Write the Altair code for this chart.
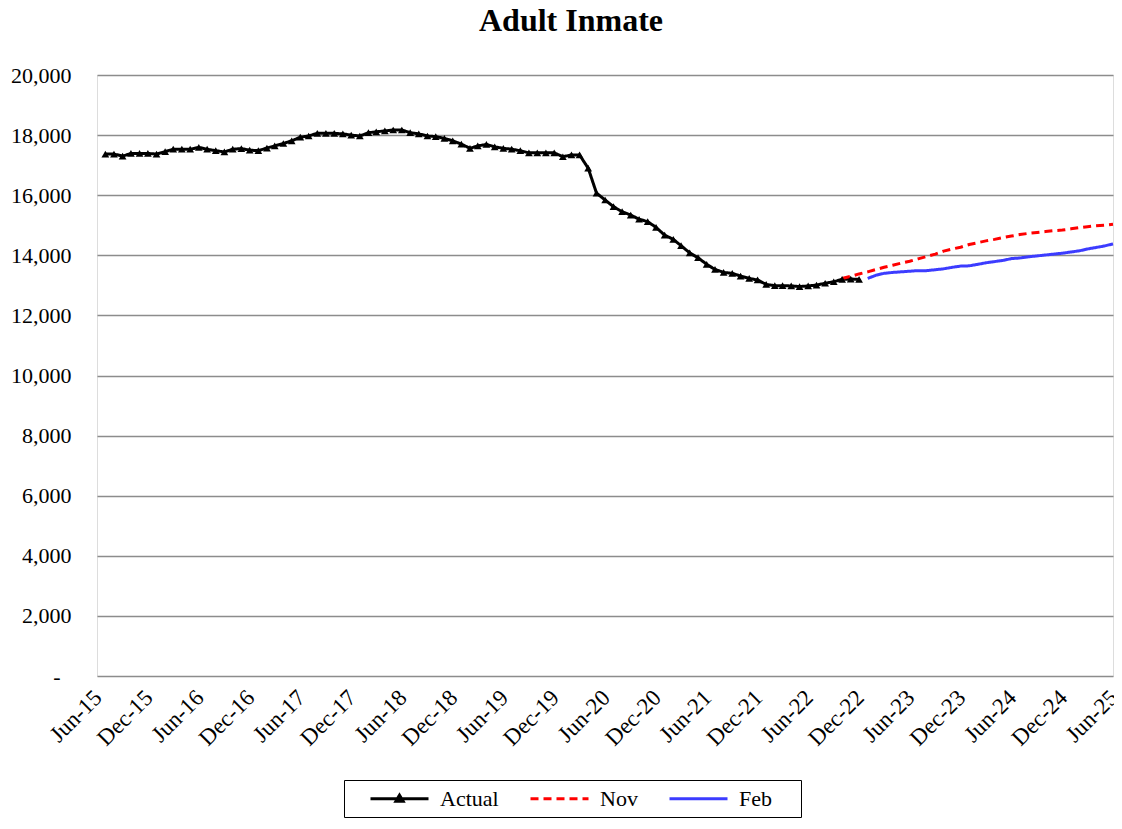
import altair as alt
import pandas as pd

# ---- data ----
actual_values = [
    17370, 17370, 17300, 17390, 17390, 17390,                                  # Jul-15 .. Dec-15
    17370, 17450, 17530, 17530, 17530, 17590, 17530, 17480, 17440, 17530, 17550, 17500,  # 2016
    17480, 17570, 17640, 17720, 17810, 17930, 17970, 18060, 18060, 18060, 18040, 18000,  # 2017
    17970, 18080, 18110, 18140, 18170, 18170, 18080, 18040, 17970, 17950, 17890, 17810,  # 2018
    17700, 17560, 17640, 17690, 17610, 17560, 17530, 17480, 17410, 17410, 17410, 17410,  # 2019
    17280, 17340, 17340, 16900, 16070, 15840, 15620, 15450, 15340, 15200, 15120, 14930,  # 2020
    14670, 14530, 14320, 14080, 13920, 13700, 13530, 13430, 13400, 13310, 13230, 13180,  # 2021
    13030, 12990, 12990, 12980, 12960, 12980, 13010, 13070, 13120, 13200, 13210, 13200,  # 2022
]
actual_start = "2015-07-01"

nov_values = [
    13230, 13300, 13380,                                                       # Oct-22 .. Dec-22
    13450, 13530, 13600, 13670, 13740, 13800, 13880, 13960, 14040, 14140, 14210, 14270,  # 2023
    14360, 14420, 14480, 14530, 14590, 14640, 14690, 14730, 14760, 14790, 14820, 14840,  # 2024
    14880, 14920, 14950, 14980, 15000, 15030,                                  # Jan-25 .. Jun-25
]
nov_start = "2022-10-01"

feb_values = [
    13230, 13340, 13400, 13430, 13450, 13470, 13490, 13490, 13520, 13550, 13600, 13640,  # 2023
    13650, 13700, 13750, 13790, 13830, 13890, 13910, 13950, 13980, 14010, 14040, 14070,  # 2024
    14110, 14150, 14210, 14260, 14310, 14380,                                  # Jan-25 .. Jun-25
]
feb_start = "2023-01-01"

series_names = ["Actual", "Nov", "Feb"]
series_colors = ["#000000", "#ff0000", "#3c3cff"]
series_dashes = [[1, 0], [8, 5], [1, 0]]
# legend symbols: a 58px line (path units x10), the Actual one with a triangle on it
legend_shapes = [
    "M-2.9,0H2.9M-0.36,0.25L0,-0.36L0.36,0.25Z",
    "M-2.9,0H2.9",
    "M-2.9,0H2.9",
]

y_ticks = list(range(0, 20001, 2000))
x_tick_dates = pd.date_range("2015-06-01", "2025-06-01", freq="6MS")


def monthly(start, values, name):
    dates = pd.date_range(start, periods=len(values), freq="MS").strftime("%Y-%m-%d")
    return pd.DataFrame({"date": dates, "value": values, "series": name})


actual_df = monthly(actual_start, actual_values, "Actual")
nov_df = monthly(nov_start, nov_values, "Nov")
feb_df = monthly(feb_start, feb_values, "Feb")
all_df = pd.concat([actual_df, nov_df, feb_df], ignore_index=True)

FONT = "Liberation Serif"
NB = "\u00a0"
ZW = "\u200b"

x_tick_ms = [int(pd.Timestamp(d, tz="UTC").value // 10**6) for d in x_tick_dates]

x_enc = alt.X(
    "date:T",
    scale=alt.Scale(type="utc", domain=[x_tick_ms[0], x_tick_ms[-1]]),
    axis=alt.Axis(
        values=x_tick_ms,
        labelExpr="utcFormat(datum.value, '%b-%y')",
        labelAngle=315,
        labelAlign="right",
        labelBaseline="top",
        labelPadding=10,
        labelOffset=-7,
        labelFont=FONT,
        labelFontSize=23,
        labelColor="black",
        ticks=False,
        domain=False,
        grid=False,
        title=None,
        labelOverlap=False,
        labelFlush=False,
    ),
)
y_enc = alt.Y(
    "value:Q",
    scale=alt.Scale(domain=[0, 20000], nice=False, zero=True),
    axis=alt.Axis(
        values=y_ticks,
        labelExpr=f"datum.value == 0 ? '-{NB}{NB}{ZW}' : format(datum.value, ',')",
        labelFont=FONT,
        labelFontSize=22,
        labelColor="black",
        labelPadding=26,
        ticks=False,
        domain=False,
        grid=True,
        gridColor="#8c8c8c",
        gridWidth=1.5,
        title=None,
    ),
)

legend = alt.Legend(
    orient="none",
    legendX=247,
    legendY=705,
    direction="horizontal",
    title=ZW,
    titleOrient="left",
    titlePadding=37,
    titleFont=FONT,
    titleFontSize=22,
    strokeColor="black",
    fillColor="white",
    padding=7,
    labelFont=FONT,
    labelFontSize=22,
    labelColor="black",
    labelOffset=29,
    labelExpr=f"datum.label == 'Feb' ? 'Feb{NB}{NB}{NB}{NB}{ZW}' : datum.label",
    symbolSize=400,
    symbolStrokeWidth=3,
    columnPadding=25,
)

stroke_scale = alt.Scale(domain=series_names, range=series_colors)
dash_scale = alt.Scale(domain=series_names, range=series_dashes)

# empty layer whose only job is the merged legend (first, so its legend wins the merge)
legend_layer = (
    alt.Chart(all_df)
    .transform_filter("false")
    .mark_point(filled=True, size=400, strokeWidth=3, opacity=1)
    .encode(
        x=x_enc,
        y=y_enc,
        stroke=alt.Stroke("series:N", scale=stroke_scale, legend=legend),
        fill=alt.Fill("series:N", scale=stroke_scale, legend=legend),
        strokeDash=alt.StrokeDash("series:N", scale=dash_scale, legend=legend),
        shape=alt.Shape(
            "series:N",
            scale=alt.Scale(domain=series_names, range=legend_shapes),
            legend=legend,
        ),
    )
)

lines = alt.Chart(all_df).mark_line(strokeWidth=3).encode(
    x=x_enc,
    y=y_enc,
    stroke=alt.Stroke("series:N", scale=stroke_scale, legend=None),
    strokeDash=alt.StrokeDash("series:N", scale=dash_scale, legend=None),
    detail="series:N",
)

points = alt.Chart(actual_df).mark_point(
    shape="triangle-up", filled=True, color="black", size=60, opacity=1
).encode(x=x_enc, y=y_enc)

chart = (
    alt.layer(legend_layer, lines, points)
    .properties(
        width=1016,
        height=601,
        title=alt.TitleParams(
            "Adult Inmate",
            font=FONT,
            fontSize=32,
            fontWeight="bold",
            color="black",
            anchor="middle",
            frame="group",
            dx=-34,
            baseline="alphabetic",
            offset=1,
        ),
        autosize=alt.AutoSizeParams(type="none"),
        padding={"left": 89, "top": 67, "right": 1, "bottom": 142},
    )
    .configure_view(stroke="black", strokeWidth=1.5)
    .configure(background="white")
)

chart.save("out.html", embed_options={"renderer": "svg", "actions": False})
